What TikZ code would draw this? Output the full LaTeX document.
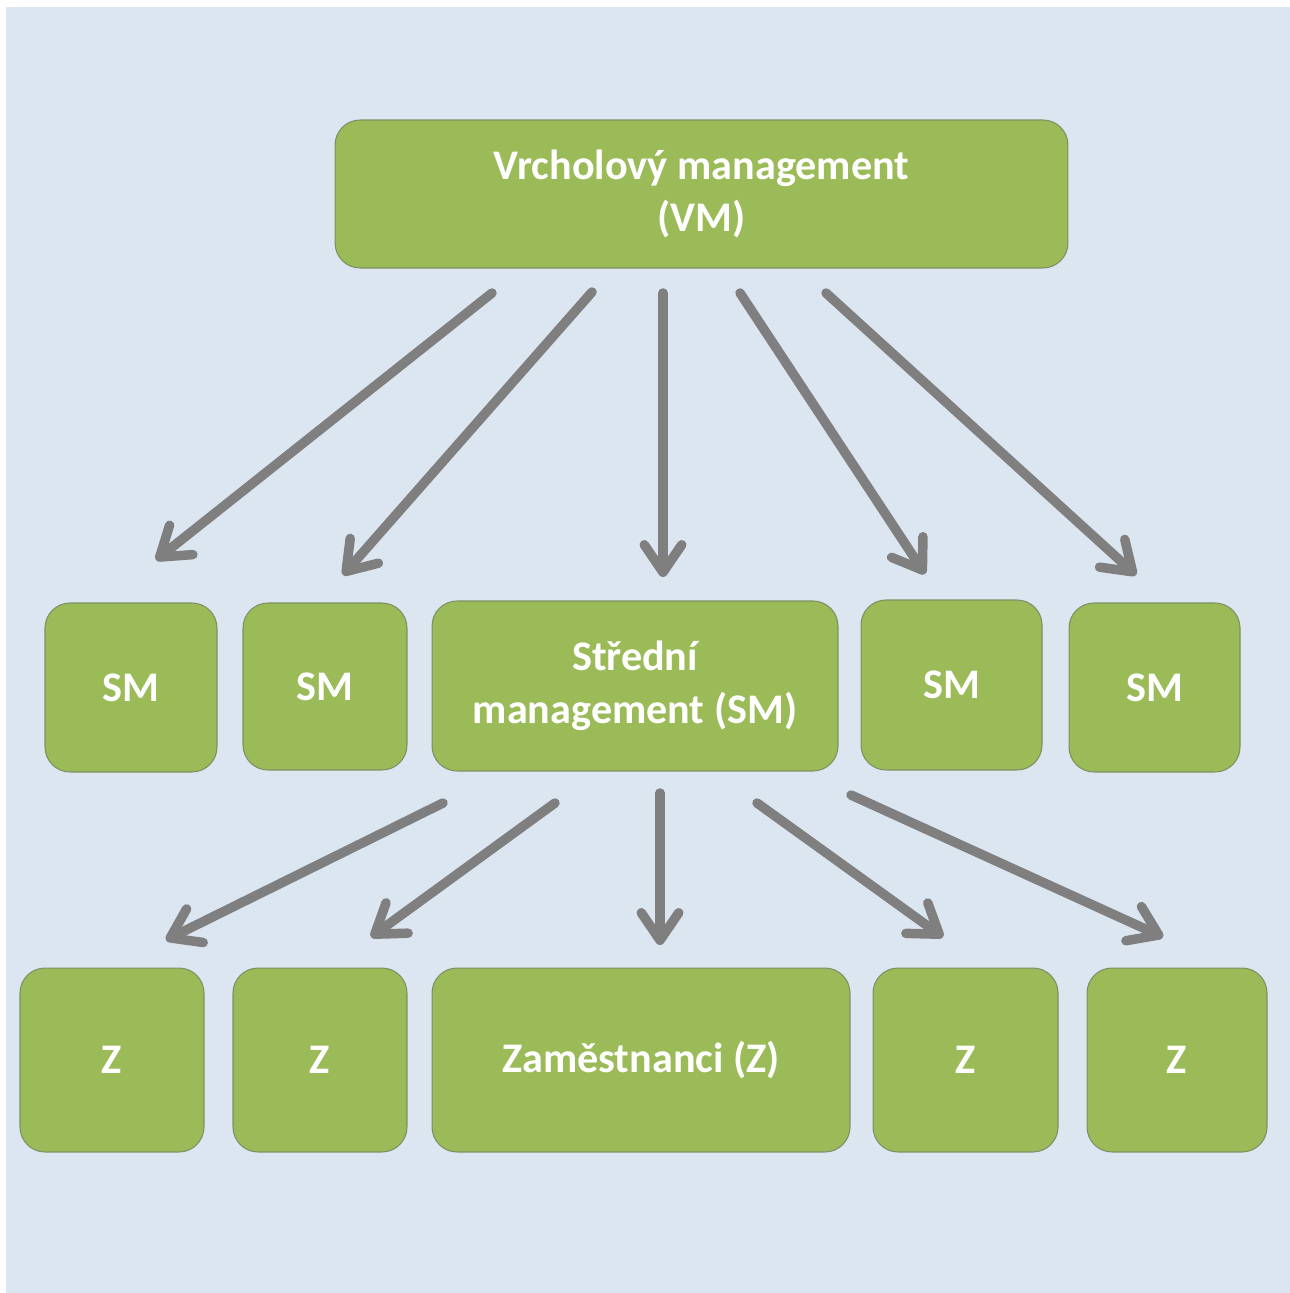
\documentclass[tikz,border=0pt]{standalone}
\usepackage{fontspec}
\setmainfont{Carlito}
\usetikzlibrary{positioning,arrows.meta}
\definecolor{boxgreen}{HTML}{9BBB59}
\definecolor{boxline}{HTML}{7D8F63}
\definecolor{arrowgray}{HTML}{7F7F7F}
\definecolor{bgblue}{HTML}{DCE6F1}
\tikzstyle{level} = [draw=boxline, line width=0.6pt, fill=boxgreen, rounded corners=0.5cm, text=white, font=\fontsize{24}{30}\selectfont\bfseries, align=center, inner sep=0pt]
\tikzstyle{line} = [draw=arrowgray, line width=0.19cm, line cap=round, -{Straight Barb[length=0.55cm,width=0.75cm,round]}]

\begin{document}
\begin{tikzpicture}[x=0.02cm,y=-0.02cm]
  \useasboundingbox (0,0) rectangle (1289,1293);
  \fill[white] (0,0) rectangle (1289,1293);
  \fill[bgblue] (6,7) rectangle (1300,1300);

  \node[level, minimum width=14.66cm, minimum height=2.96cm] (vm) at (701.5,194) {Vrcholový management\\(VM)};

  \node[level, minimum width=3.44cm, minimum height=3.38cm] (sm1) at (131,687.5) {SM};
  \node[level, minimum width=3.28cm, minimum height=3.34cm] (sm2) at (325,686.5) {SM};
  \node[level, minimum width=8.12cm, minimum height=3.40cm] (sm) at (635,686) {Střední\\management (SM)};
  \node[level, minimum width=3.62cm, minimum height=3.40cm] (sm4) at (951.5,685) {SM};
  \node[level, minimum width=3.42cm, minimum height=3.38cm] (sm5) at (1154.5,687.5) {SM};

  \node[level, minimum width=3.68cm, minimum height=3.68cm] (z1) at (112,1060) {Z};
  \node[level, minimum width=3.48cm, minimum height=3.68cm] (z2) at (320,1060) {Z};
  \node[level, minimum width=8.36cm, minimum height=3.68cm] (z) at (641,1060) {Zaměstnanci (Z)};
  \node[level, minimum width=3.70cm, minimum height=3.68cm] (z4) at (965.5,1060) {Z};
  \node[level, minimum width=3.60cm, minimum height=3.68cm] (z5) at (1177,1060) {Z};

  \coordinate (vm1) at (492,293);  \coordinate (vmsm1) at (156,560);
  \coordinate (vm2) at (592,292);  \coordinate (vmsm2) at (343,575);
  \coordinate (vm3) at (663,293);  \coordinate (vmsm3) at (663,577);
  \coordinate (vm4) at (740,293);  \coordinate (vmsm4) at (925,574);
  \coordinate (vm5) at (826,293);  \coordinate (vmsm5) at (1136,575);

  \coordinate (sm1z) at (443,803); \coordinate (smz1) at (166,940);
  \coordinate (sm2z) at (555,803); \coordinate (smz2) at (371,937);
  \coordinate (sm3z) at (660,793); \coordinate (smz3) at (660,945);
  \coordinate (sm4z) at (757,803); \coordinate (smz4) at (943,937);
  \coordinate (sm5z) at (851,795); \coordinate (smz5) at (1163,937);

  \foreach \i in {1,...,5} {
    \path [line] (vm\i) -- (vmsm\i);
    \path [line] (sm\i z) -- (smz\i);
  }
\end{tikzpicture}
\end{document}
